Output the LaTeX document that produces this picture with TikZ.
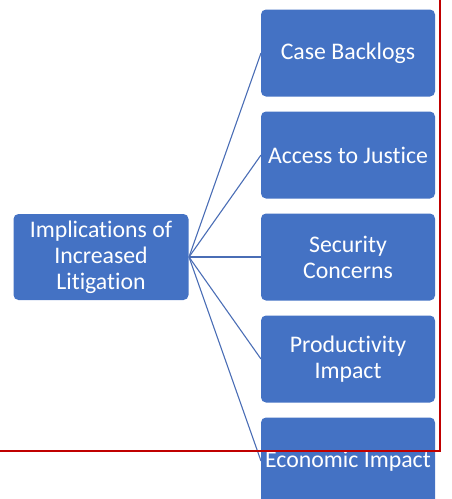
\documentclass[tikz,border=0pt]{standalone}
\usepackage{fontspec}
\setmainfont{Carlito}[Ligatures=NoCommon]
\usepackage{tikz}
\usetikzlibrary{positioning}
\definecolor{boxblue}{HTML}{4472C4}
\definecolor{linkblue}{HTML}{4A6DB5}
\definecolor{markred}{HTML}{C00000}

\begin{document}
\begin{tikzpicture}[x=1pt,y=-1pt,
  every node/.append style={font=\fontsize{23.8}{26}\selectfont}]
  \tikzstyle{topic} = [fill=boxblue,rounded corners=5pt,text=white,align=center,
    minimum width=175pt,minimum height=86pt,inner sep=0pt]
  \tikzstyle{item} = [topic,minimum width=174pt,minimum height=87pt]
  \tikzstyle{link} = [draw=linkblue,line width=1.1pt]
  \tikzstyle{redframe} = [draw=markred,line width=2pt]
  \useasboundingbox (0,0) rectangle (452,499);
  % links first, boxes on top
  \coordinate (hub) at (189,257);
  \coordinate (e_1) at (261,53);
  \coordinate (e_2) at (261,155);
  \coordinate (e_3) at (261,257);
  \coordinate (e_4) at (261,359);
  \coordinate (e_5) at (261,461);
  \draw[link] (hub) -- (e_1);
  \draw[link] (hub) -- (e_2);
  \draw[link] (hub) -- (e_3);
  \draw[link] (hub) -- (e_4);
  \draw[link] (hub) -- (e_5);
  \node (imp) [topic] at (101,257) {Implications of\\Increased\\Litigation};
  \node (n_1) [item] at (348,53) {Case Backlogs};
  \node (n_2) [item] at (348,155) {Access to Justice};
  \node (n_3) [item] at (348,257) {Security\\Concerns};
  \node (n_4) [item] at (348,359) {Productivity\\Impact};
  \node (n_5) [item] at (348,461) {Economic Impact};
  % red frame over everything
  \coordinate (m_1) at (0,451);
  \coordinate (m_2) at (440,451);
  \coordinate (m_3) at (440,0);
  \draw[redframe] (m_1) -- (m_2) -- (m_3);
\end{tikzpicture}
\end{document}
